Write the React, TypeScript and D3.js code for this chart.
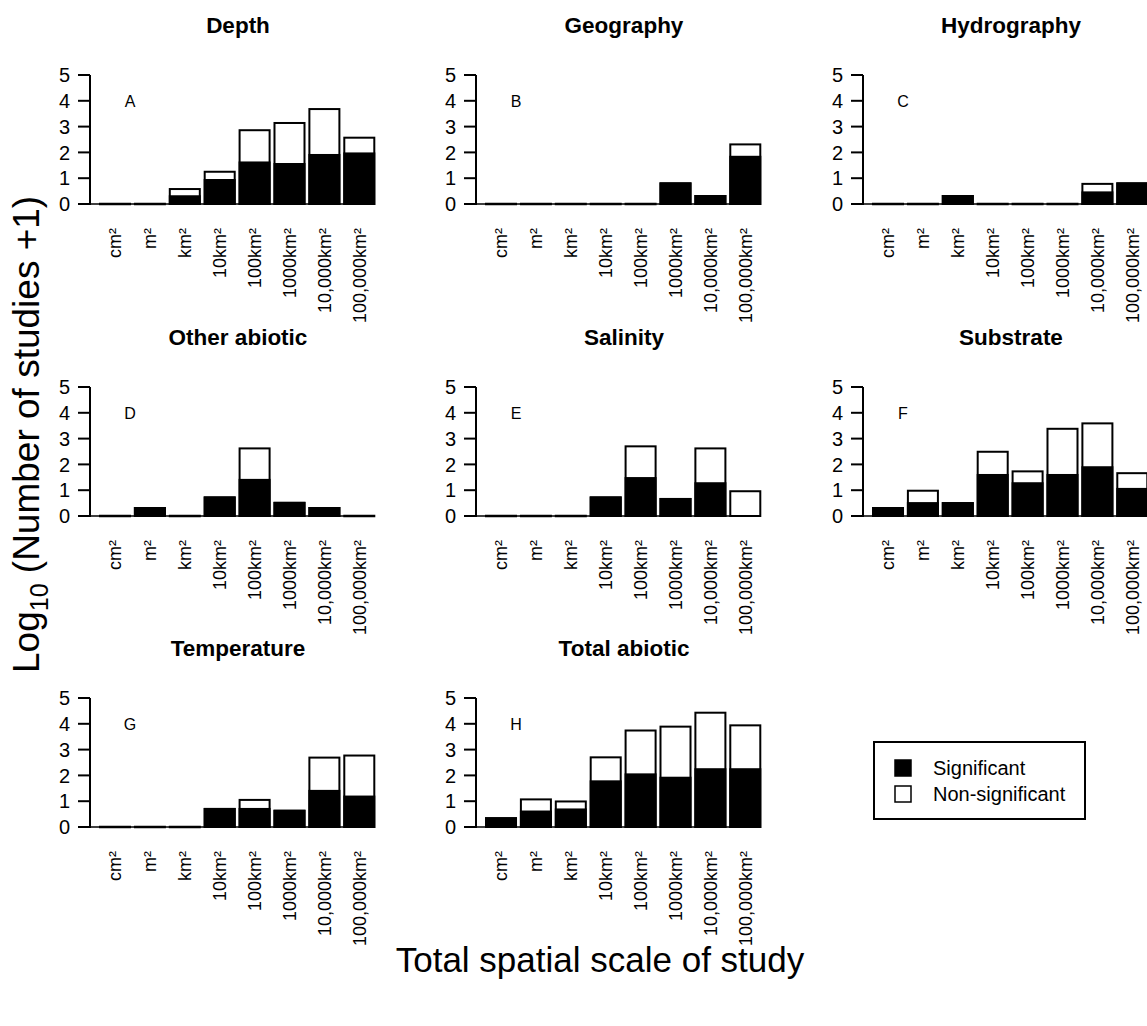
import React from "react";
import * as d3 from "d3";

const categories = ["cm²", "m²", "km²", "10km²", "100km²", "1000km²", "10,000km²", "100,000km²"];
const panelTitles = ["Depth", "Geography", "Hydrography", "Other abiotic", "Salinity", "Substrate", "Temperature", "Total abiotic"];
const panelLetters = ["A", "B", "C", "D", "E", "F", "G", "H"];
const yTicks = [0, 1, 2, 3, 4, 5];

const depthTotal = [0, 0, 0.58, 1.25, 2.86, 3.14, 3.68, 2.57];
const depthSig = [0, 0, 0.3, 0.93, 1.61, 1.55, 1.9, 1.96];
const geographyTotal = [0, 0, 0, 0, 0, 0.8, 0.31, 2.31];
const geographySig = [0, 0, 0, 0, 0, 0.8, 0.31, 1.83];
const hydrographyTotal = [0, 0, 0.31, 0, 0, 0, 0.78, 0.8];
const hydrographySig = [0, 0, 0.31, 0, 0, 0, 0.45, 0.8];
const otherTotal = [0, 0.31, 0, 0.72, 2.62, 0.51, 0.31, 0];
const otherSig = [0, 0.31, 0, 0.72, 1.4, 0.51, 0.31, 0];
const salinityTotal = [0, 0, 0, 0.72, 2.7, 0.66, 2.62, 0.96];
const salinitySig = [0, 0, 0, 0.72, 1.47, 0.66, 1.27, 0];
const substrateTotal = [0.31, 0.98, 0.5, 2.49, 1.73, 3.38, 3.59, 1.66];
const substrateSig = [0.31, 0.5, 0.5, 1.59, 1.27, 1.59, 1.89, 1.05];
const temperatureTotal = [0, 0, 0, 0.7, 1.05, 0.63, 2.69, 2.77];
const temperatureSig = [0, 0, 0, 0.7, 0.7, 0.63, 1.4, 1.18];
const totalAbioticTotal = [0.34, 1.07, 0.99, 2.7, 3.74, 3.89, 4.43, 3.94];
const totalAbioticSig = [0.34, 0.6, 0.68, 1.77, 2.04, 1.91, 2.24, 2.24];

const legendLabels = ["Significant", "Non-significant"];

const totals = [depthTotal, geographyTotal, hydrographyTotal, otherTotal, salinityTotal, substrateTotal, temperatureTotal, totalAbioticTotal];
const sigs = [depthSig, geographySig, hydrographySig, otherSig, salinitySig, substrateSig, temperatureSig, totalAbioticSig];

const FONT = "'Liberation Sans', Arial, Helvetica, sans-serif";
const colX = [90, 476, 863];
const rowBase = [204, 516, 827];
const plotH = 129;

function Panel({ idx }: { idx: number }) {
  const col = idx % 3;
  const row = Math.floor(idx / 3);
  const ax = colX[col];
  const base = rowBase[row];
  const x = d3
    .scaleBand<string>()
    .domain(categories)
    .range([ax + 10, ax + 10 + 8 * 34.9 - 4.9])
    .paddingInner(0.14)
    .paddingOuter(0);
  const y = d3.scaleLinear().domain([0, 5]).range([base, base - plotH]);
  const tot = totals[idx];
  const sig = sigs[idx];
  const bw = x.bandwidth();
  return (
    <g>
      <text x={ax + 148} y={y(5) - 42} textAnchor="middle" fontWeight="bold" fontSize={22.5} fontFamily={FONT}>
        {panelTitles[idx]}
      </text>
      <text x={ax + 40} y={y(4) + 6} textAnchor="middle" fontSize={16} fontFamily={FONT}>
        {panelLetters[idx]}
      </text>
      <line x1={ax} x2={ax + 10 + 8 * 34.9 - 4.9} y1={y(0)} y2={y(0)} stroke="#000" strokeWidth={1.5} />
      {categories.map((c, i) => {
        const x0 = x(c) as number;
        return (
          <g key={c}>
            {tot[i] > 0 && (
              <rect x={x0} y={y(tot[i])} width={bw} height={y(0) - y(tot[i])} fill="#fff" stroke="#000" strokeWidth={2} />
            )}
            {sig[i] > 0 && (
              <rect x={x0} y={y(sig[i])} width={bw} height={y(0) - y(sig[i])} fill="#000" stroke="#000" strokeWidth={2} />
            )}
            {tot[i] === 0 && <line x1={x0 - 1} x2={x0 + bw + 1} y1={y(0)} y2={y(0)} stroke="#000" strokeWidth={2.5} />}
            <text
              transform={`translate(${x0 + bw / 2},${base + 24}) rotate(-90)`}
              textAnchor="end"
              dy="0.35em"
              fontSize={18}
              fontFamily={FONT}
            >
              {c}
            </text>
          </g>
        );
      })}
      <line x1={ax} x2={ax} y1={y(0) + 1} y2={y(5)} stroke="#000" strokeWidth={2} />
      {yTicks.map((t) => (
        <g key={t}>
          <line x1={ax - 12} x2={ax} y1={y(t)} y2={y(t)} stroke="#000" strokeWidth={2} />
          <text x={ax - 20} y={y(t)} dy="0.36em" textAnchor="end" fontSize={20} fontFamily={FONT}>
            {t}
          </text>
        </g>
      ))}
    </g>
  );
}

export default function App() {
  return (
    <svg
      width={1147}
      height={1026}
      style={{ position: "absolute", left: 0, top: 0, background: "#fff" }}
      fontFamily={FONT}
    >
      <rect x={0} y={0} width={1147} height={1026} fill="#fff" />
      {panelTitles.map((_, i) => (
        <Panel key={i} idx={i} />
      ))}
      <g>
        <rect x={874} y={742} width={211} height={77} fill="#fff" stroke="#000" strokeWidth={2} />
        <rect x={895} y={760} width={16} height={16} fill="#000" stroke="#000" strokeWidth={1.5} />
        <rect x={895} y={786} width={16} height={16} fill="#fff" stroke="#000" strokeWidth={1.5} />
        <text x={933} y={768} dy="0.36em" fontSize={20}>{legendLabels[0]}</text>
        <text x={933} y={794} dy="0.36em" fontSize={20}>{legendLabels[1]}</text>
      </g>
      <text transform="translate(39,673) rotate(-90)" textAnchor="start" fontSize={37}>
        Log
        <tspan fontSize={25} dy={9}>10</tspan>
        <tspan dy={-9}> (Number of studies +1)</tspan>
      </text>
      <text x={600} y={972} textAnchor="middle" fontSize={35}>
        Total spatial scale of study
      </text>
    </svg>
  );
}
